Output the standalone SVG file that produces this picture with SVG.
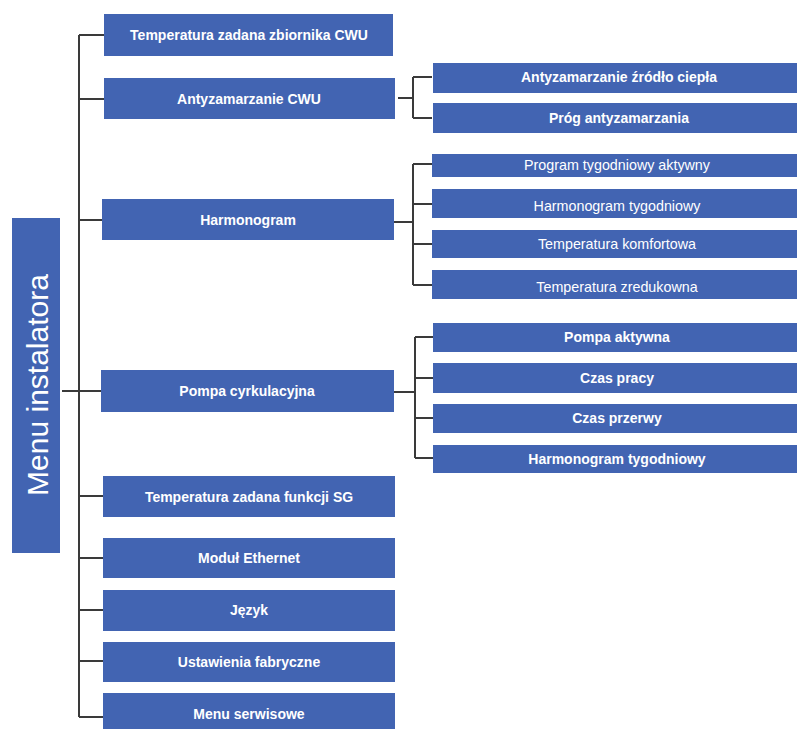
<svg xmlns="http://www.w3.org/2000/svg" width="797" height="729" viewBox="0 0 797 729">
<style>
.box{fill:#4264b2}
.t{fill:#ffffff;font-family:"Liberation Sans",Arial,sans-serif;font-size:14px;font-weight:bold;text-anchor:middle;dominant-baseline:central}
.r{font-weight:normal;font-size:14.3px}
.c{fill:none;stroke:#3a3a3a;stroke-width:2}
</style>
<rect width="797" height="729" fill="#ffffff"/>
<g id="connectors">
<path class="c" d="M79 35V717M62 391H79M79 35H104M79 99H104M79 220H102M79 391H101M79 496H103M79 558H103M79 610H103M79 661H103M79 717H103"/>
<path class="c" d="M398 98H413M413 77V118M413 77H432M413 118H432"/>
<path class="c" d="M394 222H413M413 164V285M413 164H432M413 204H432M413 244H432M413 285H432"/>
<path class="c" d="M394 392H415M415 337V458M415 337H433M415 378H433M415 418H433M415 458H433"/>
</g>
<g id="root"><rect class="box" x="12" y="218" width="48" height="335"/><text transform="translate(37 385) rotate(-90)" fill="#ffffff" font-family="'Liberation Sans',Arial,sans-serif" font-size="30" text-anchor="middle" dominant-baseline="central">Menu instalatora</text></g>
<g id="n1"><rect class="box" x="104" y="14" width="289" height="42"/><text class="t" x="249" y="35">Temperatura zadana zbiornika CWU</text></g>
<g id="n2"><rect class="box" x="104" y="78" width="291" height="41"/><text class="t" x="249" y="99">Antyzamarzanie CWU</text></g>
<g id="n3"><rect class="box" x="102" y="199" width="292" height="41"/><text class="t" x="248" y="220">Harmonogram</text></g>
<g id="n4"><rect class="box" x="101" y="370" width="293" height="42"/><text class="t" x="247" y="391">Pompa cyrkulacyjna</text></g>
<g id="n5"><rect class="box" x="103" y="476" width="292" height="41"/><text class="t" x="249" y="497">Temperatura zadana funkcji SG</text></g>
<g id="n6"><rect class="box" x="103" y="538" width="292" height="40"/><text class="t" x="249" y="558">Moduł Ethernet</text></g>
<g id="n7"><rect class="box" x="103" y="590" width="292" height="41"/><text class="t" x="249" y="610">Język</text></g>
<g id="n8"><rect class="box" x="103" y="642" width="292" height="40"/><text class="t" x="249" y="662">Ustawienia fabryczne</text></g>
<g id="n9"><rect class="box" x="103" y="693" width="292" height="36"/><text class="t" x="249" y="714">Menu serwisowe</text></g>
<g id="n2a"><rect class="box" x="433" y="63" width="364" height="30"/><text class="t" x="619" y="77">Antyzamarzanie źródło ciepła</text></g>
<g id="n2b"><rect class="box" x="433" y="103" width="364" height="30"/><text class="t" x="619" y="118">Próg antyzamarzania</text></g>
<g id="n3a"><rect class="box" x="432" y="154" width="365" height="23"/><text class="t r" x="617" y="165">Program tygodniowy aktywny</text></g>
<g id="n3b"><rect class="box" x="432" y="189" width="365" height="29"/><text class="t r" x="617" y="206">Harmonogram tygodniowy</text></g>
<g id="n3c"><rect class="box" x="432" y="230" width="365" height="28"/><text class="t r" x="617" y="244">Temperatura komfortowa</text></g>
<g id="n3d"><rect class="box" x="432" y="270" width="365" height="29"/><text class="t r" x="617" y="287">Temperatura zredukowna</text></g>
<g id="n4a"><rect class="box" x="433" y="323" width="364" height="29"/><text class="t" x="617" y="337">Pompa aktywna</text></g>
<g id="n4b"><rect class="box" x="433" y="363" width="364" height="30"/><text class="t" x="617" y="378">Czas pracy</text></g>
<g id="n4c"><rect class="box" x="433" y="404" width="364" height="29"/><text class="t" x="617" y="418">Czas przerwy</text></g>
<g id="n4d"><rect class="box" x="433" y="445" width="364" height="28"/><text class="t" x="617" y="459">Harmonogram tygodniowy</text></g>
</svg>
